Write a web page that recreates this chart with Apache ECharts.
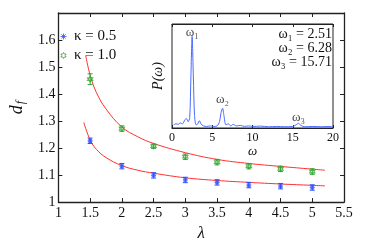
<!DOCTYPE html>
<html><head><meta charset="utf-8">
<script src="https://cdn.jsdelivr.net/npm/echarts@6/dist/echarts.min.js"></script>
<style>html,body{margin:0;padding:0;background:#fff}#c{width:374px;height:247px}</style>
</head><body><div id="c"></div>
<script>
// ---- data ----
const lambdas = [1.5, 2, 2.5, 3, 3.5, 4, 4.5, 5];
const dfK05 = [1.227, 1.133, 1.099, 1.082, 1.073, 1.063, 1.059, 1.054];
const errK05 = [0.01, 0.01, 0.01, 0.01, 0.01, 0.01, 0.01, 0.01];
const dfK10 = [1.455, 1.272, 1.207, 1.168, 1.148, 1.133, 1.123, 1.113];
const errK10 = [0.02, 0.01, 0.008, 0.01, 0.01, 0.01, 0.01, 0.01];
const fitLowX = [1.40, 1.5, 1.6, 1.75, 2, 2.25, 2.5, 3, 3.5, 4, 4.5, 5, 5.2];
const fitLowY = [1.295, 1.23, 1.195, 1.165, 1.135, 1.118, 1.107, 1.09, 1.08, 1.073, 1.067, 1.062, 1.06];
const fitHighX = [1.43, 1.5, 1.6, 1.75, 2, 2.25, 2.5, 3, 3.5, 4, 4.5, 5, 5.2];
const fitHighY = [1.543, 1.47, 1.405, 1.345, 1.278, 1.242, 1.217, 1.183, 1.158, 1.143, 1.132, 1.122, 1.118];
const omega = [0.2,0.5,0.8,1.0,1.3,1.6,1.8,2.0,2.2,2.35,2.5,2.65,2.8,3.0,3.2,3.4,3.6,3.9,4.3,4.8,5.2,5.6,5.9,6.1,6.28,6.45,6.7,7.0,7.3,7.6,8.0,8.5,9.0,9.5,10,11,12,13,14,15,15.4,15.71,16.0,16.5,17.5,18.5,19.5,20];
const power = [0.03,0.04,0.035,0.05,0.04,0.08,0.09,0.06,0.10,0.5,0.88,0.5,0.12,0.03,0.04,0.07,0.04,0.02,0.015,0.02,0.015,0.02,0.06,0.15,0.19,0.12,0.03,0.04,0.02,0.035,0.02,0.025,0.015,0.02,0.015,0.018,0.012,0.015,0.012,0.015,0.03,0.045,0.025,0.012,0.015,0.012,0.014,0.012];
const peakW = [2.51, 6.28, 15.71];
const peakLabelY = [0.92, 0.27, 0.1];
const peakNames = ['ω₁', 'ω₂', 'ω₃'];

const BLUE = '#3050ff', GREEN = '#2fa52f', RED = '#ff3030';
const SERIF = 'Liberation Serif, DejaVu Serif, serif';
const asterisk = 'path://M50 0 L50 100 M0 50 L100 50 M15 15 L85 85 M85 15 L15 85';
const hexagram = 'path://M50 0 L64.4 25 L93.3 25 L78.9 50 L93.3 75 L64.4 75 L50 100 L35.6 75 L6.7 75 L21.1 50 L6.7 25 L35.6 25 Z';

function errData(xs, ys, es){ return xs.map((x,i)=>[x, ys[i]-es[i], ys[i]+es[i]]); }
function errSeries(xs, ys, es, color){
  return {type:'custom', xAxisIndex:0, yAxisIndex:0, z:3, silent:true,
    data: errData(xs, ys, es),
    renderItem:(params, api)=>{
      const lo = api.coord([api.value(0), api.value(1)]);
      const hi = api.coord([api.value(0), api.value(2)]);
      const w = 2.5;
      return {type:'group', children:[
        {type:'line', shape:{x1:lo[0],y1:lo[1],x2:hi[0],y2:hi[1]}, style:{stroke:color, lineWidth:1}},
        {type:'line', shape:{x1:lo[0]-w,y1:lo[1],x2:lo[0]+w,y2:lo[1]}, style:{stroke:color, lineWidth:1}},
        {type:'line', shape:{x1:hi[0]-w,y1:hi[1],x2:hi[0]+w,y2:hi[1]}, style:{stroke:color, lineWidth:1}}
      ]};
    }};
}
const fmt = v => String(Math.round(v*10)/10);
const axisLineMain = {lineStyle:{color:'#222', width:1.3}};

const chart = echarts.init(document.getElementById('c'), null, {renderer:'canvas'});
chart.setOption({
  animation:false,
  backgroundColor:'#fff',
  grid:[
    {left:39, top:13, width:305, height:201, show:false},
    {left:172, top:24, width:161, height:104, show:true, backgroundColor:'#fff', borderColor:'#222', borderWidth:1, z:5}
  ],
  legend:{left:55, top:24, orient:'vertical', itemGap:4, itemWidth:11, itemHeight:6,
    data:[
      {name:'κ = 0.5', icon:asterisk, itemStyle:{color:'rgba(0,0,0,0)', borderColor:BLUE, borderWidth:1}},
      {name:'κ = 1.0', icon:hexagram, itemStyle:{color:'rgba(0,0,0,0)', borderColor:GREEN, borderWidth:1}}
    ],
    textStyle:{fontFamily:SERIF, fontSize:15, color:'#111'}},
  xAxis:[
    {type:'value', gridIndex:0, min:1, max:5.5, interval:0.5, position:'bottom',
     name:'λ', nameLocation:'middle', nameGap:17, nameTextStyle:{fontFamily:SERIF, fontSize:17, fontStyle:'italic', color:'#111'},
     axisLine:axisLineMain, axisTick:{inside:true, length:4, lineStyle:{color:'#222'}},
     axisLabel:{fontFamily:SERIF, fontSize:14, color:'#111', margin:4, formatter:v=>String(v)}, splitLine:{show:false}},
    {type:'value', gridIndex:0, min:1, max:5.5, interval:0.5, position:'top',
     axisLine:axisLineMain, axisTick:{inside:true, length:4, lineStyle:{color:'#222'}}, axisLabel:{show:false}, splitLine:{show:false}},
    {type:'value', gridIndex:1, min:0, max:20, interval:5, position:'bottom',
     name:'ω', nameLocation:'middle', nameGap:15, nameTextStyle:{fontFamily:SERIF, fontSize:13, fontStyle:'italic', color:'#111'},
     axisLine:{lineStyle:{color:'#222', width:1}}, axisTick:{inside:true, length:3, lineStyle:{color:'#222'}},
     axisLabel:{fontFamily:SERIF, fontSize:12, color:'#111', margin:4}, splitLine:{show:false}, z:6},
    {type:'value', gridIndex:1, min:0, max:20, interval:5, position:'top',
     axisLine:{lineStyle:{color:'#222', width:1}}, axisTick:{inside:true, length:3, lineStyle:{color:'#222'}}, axisLabel:{show:false}, splitLine:{show:false}, z:6}
  ],
  yAxis:[
    {type:'value', gridIndex:0, min:1, max:1.7, interval:0.1, position:'left',
     name:'{d|d}{f|f}', nameLocation:'middle', nameGap:21, nameRotate:90,
     nameTextStyle:{rich:{d:{fontFamily:SERIF, fontSize:18, fontStyle:'italic', color:'#111'},
                          f:{fontFamily:SERIF, fontSize:12, fontStyle:'italic', color:'#111', padding:[8,0,0,1]}}},
     axisLine:axisLineMain, axisTick:{inside:true, length:4, lineStyle:{color:'#222'}},
     axisLabel:{fontFamily:SERIF, fontSize:14, color:'#111', margin:3, formatter:v=> v>1.65 ? '' : fmt(v)}, splitLine:{show:false}},
    {type:'value', gridIndex:0, min:1, max:1.7, interval:0.1, position:'right',
     axisLine:axisLineMain, axisTick:{inside:true, length:4, lineStyle:{color:'#222'}}, axisLabel:{show:false}, splitLine:{show:false}},
    {type:'value', gridIndex:1, min:0, max:1, position:'left',
     name:'P(ω)', nameLocation:'middle', nameGap:7, nameRotate:90,
     nameTextStyle:{fontFamily:SERIF, fontSize:14, fontStyle:'italic', color:'#111'},
     axisLine:{show:false}, axisTick:{show:false}, axisLabel:{show:false}, splitLine:{show:false}}
  ],
  graphic:[
    {type:'text', right:42, top:27, z:100, style:{text:'ω₁ = 2.51', fontFamily:SERIF, fontSize:14, fill:'#111', align:'right'}},
    {type:'text', right:42, top:41, z:100, style:{text:'ω₂ = 6.28', fontFamily:SERIF, fontSize:14, fill:'#111', align:'right'}},
    {type:'text', right:42, top:55, z:100, style:{text:'ω₃ = 15.71', fontFamily:SERIF, fontSize:14, fill:'#111', align:'right'}}
  ],
  series:[
    {type:'line', name:'fitLow', xAxisIndex:0, yAxisIndex:0, data:fitLowX.map((x,i)=>[x,fitLowY[i]]), smooth:0.4, showSymbol:false, lineStyle:{color:RED, width:1}, z:2, silent:true},
    {type:'line', name:'fitHigh', xAxisIndex:0, yAxisIndex:0, data:fitHighX.map((x,i)=>[x,fitHighY[i]]), smooth:0.4, showSymbol:false, lineStyle:{color:RED, width:1}, z:2, silent:true},
    errSeries(lambdas, dfK05, errK05, BLUE),
    errSeries(lambdas, dfK10, errK10, GREEN),
    {type:'scatter', name:'κ = 0.5', xAxisIndex:0, yAxisIndex:0, data:lambdas.map((x,i)=>[x,dfK05[i]]),
     symbol:asterisk, symbolSize:5, itemStyle:{color:'rgba(0,0,0,0)', borderColor:BLUE, borderWidth:1.2}, z:4},
    {type:'scatter', name:'κ = 1.0', xAxisIndex:0, yAxisIndex:0, data:lambdas.map((x,i)=>[x,dfK10[i]]),
     symbol:hexagram, symbolSize:5, itemStyle:{color:'rgba(0,0,0,0)', borderColor:GREEN, borderWidth:1.2}, z:4},
    {type:'line', name:'spectrum', xAxisIndex:2, yAxisIndex:2, data:omega.map((w,i)=>[w,power[i]]), smooth:0.3, showSymbol:false,
     lineStyle:{color:'#4a6bff', width:1}, z:10, silent:true},
    {type:'scatter', name:'peaks', xAxisIndex:2, yAxisIndex:2, data:peakW.map((w,i)=>[w,peakLabelY[i]]), symbolSize:0, z:11, silent:true,
     label:{show:true, position:'inside', formatter:p=>peakNames[p.dataIndex], fontFamily:SERIF, fontSize:13, color:'#111'}}
  ]
});
</script></body></html>
